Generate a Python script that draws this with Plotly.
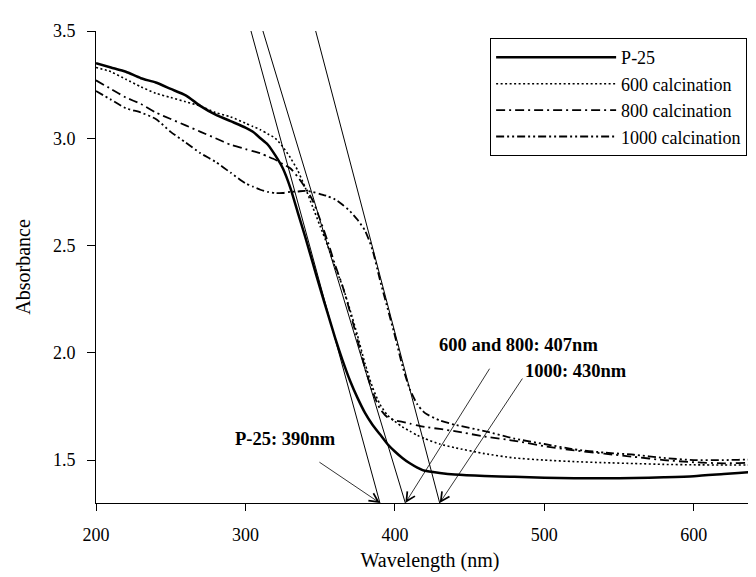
import plotly.graph_objects as go

# wavelength grid (nm) used for all four spectra
wavelength = [200, 210, 220, 230, 240, 250, 260, 270, 280, 290, 300, 305, 310,
              315, 320, 325, 330, 335, 340, 345, 350, 355, 360, 365, 370, 375,
              380, 385, 390, 395, 400, 405, 410, 415, 420, 430, 440, 460, 480,
              500, 520, 540, 560, 580, 600, 620, 640, 650]

abs_p25 = [3.35, 3.33, 3.31, 3.28, 3.26, 3.23, 3.20, 3.15, 3.11, 3.08, 3.05,
           3.03, 3.00, 2.97, 2.92, 2.86, 2.77, 2.655, 2.54, 2.42, 2.30, 2.185,
           2.07, 1.965, 1.87, 1.79, 1.72, 1.665, 1.62, 1.575, 1.54, 1.51,
           1.485, 1.465, 1.45, 1.44, 1.433, 1.426, 1.422, 1.418, 1.415, 1.415,
           1.416, 1.42, 1.425, 1.435, 1.445, 1.45]

abs_600 = [3.33, 3.31, 3.275, 3.24, 3.21, 3.19, 3.17, 3.15, 3.12, 3.10, 3.07,
           3.055, 3.04, 3.02, 3.00, 2.96, 2.91, 2.85, 2.77, 2.68, 2.59, 2.50,
           2.40, 2.31, 2.20, 2.08, 1.95, 1.84, 1.76, 1.71, 1.68, 1.655, 1.635,
           1.615, 1.60, 1.575, 1.558, 1.53, 1.51, 1.50, 1.493, 1.488, 1.484,
           1.48, 1.478, 1.477, 1.477, 1.478]

abs_800 = [3.27, 3.23, 3.19, 3.16, 3.12, 3.09, 3.06, 3.03, 3.00, 2.97, 2.95,
           2.94, 2.93, 2.915, 2.90, 2.88, 2.86, 2.82, 2.77, 2.71, 2.62, 2.52,
           2.41, 2.31, 2.19, 2.06, 1.93, 1.82, 1.74, 1.70, 1.685, 1.678, 1.67,
           1.662, 1.655, 1.645, 1.635, 1.61, 1.59, 1.565, 1.545, 1.53, 1.515,
           1.50, 1.49, 1.485, 1.488, 1.49]

abs_1000 = [3.22, 3.18, 3.14, 3.12, 3.09, 3.03, 2.98, 2.93, 2.89, 2.84, 2.79,
            2.775, 2.76, 2.75, 2.745, 2.745, 2.75, 2.752, 2.755, 2.75, 2.74,
            2.73, 2.715, 2.69, 2.66, 2.62, 2.57, 2.48, 2.34, 2.21, 2.08, 1.94,
            1.83, 1.76, 1.72, 1.685, 1.665, 1.635, 1.60, 1.575, 1.55, 1.535,
            1.525, 1.51, 1.50, 1.50, 1.503, 1.505]

series_names = ["P-25", "600 calcination", "800 calcination", "1000 calcination"]

# tangent lines: where they meet the x axis and where they leave the top
tangent_base = [390, 407, 430]
tangent_top = [303.7, 311.7, 347]
axis_floor = 1.3
axis_ceiling = 3.5

# band-gap labels
label_text = ["P-25: 390nm", "600 and 800: 407nm", "1000: 430nm"]
label_x = [327, 483, 521]
label_y = [1.60, 2.036, 1.915]
arrow_tip = [390, 407, 430]
arrow_tail_x = [348.5, 464, 486]
arrow_tail_y = [1.495, 1.933, 1.887]


def main():
    font = "Liberation Serif, Times New Roman, serif"
    fig = go.Figure()

    styles = [
        dict(width=2.5, dash="solid"),
        dict(width=1.6, dash="2px,2.5px"),
        dict(width=1.8, dash="9px,4px,2px,4px"),
        dict(width=1.8, dash="8px,3px,2px,3px,2px,3px"),
    ]
    for name, ys, st in zip(series_names,
                            [abs_p25, abs_600, abs_800, abs_1000], styles):
        fig.add_trace(go.Scatter(x=wavelength, y=ys, mode="lines", name=name,
                                 line=dict(color="black", shape="spline",
                                           smoothing=0.6, **st)))

    for b, t in zip(tangent_base, tangent_top):
        fig.add_trace(go.Scatter(x=[b, t], y=[axis_floor, axis_ceiling],
                                 mode="lines", showlegend=False,
                                 hoverinfo="skip",
                                 line=dict(color="black", width=1)))

    for txt, x, y in zip(label_text, label_x, label_y):
        fig.add_annotation(x=x, y=y, text="<b>%s</b>" % txt, showarrow=False,
                           font=dict(family=font, size=18.5, color="black"))

    for tip, tx, ty in zip(arrow_tip, arrow_tail_x, arrow_tail_y):
        fig.add_annotation(x=tip, y=axis_floor, ax=tx, ay=ty, axref="x",
                           ayref="y", text="", showarrow=True, arrowhead=5,
                           arrowsize=2.2, arrowwidth=0.8, arrowcolor="black",
                           standoff=0)

    fig.update_layout(
        width=756, height=577,
        margin=dict(l=88, r=0, t=23, b=82),
        paper_bgcolor="white", plot_bgcolor="white",
        font=dict(family=font, size=18, color="black"),
        legend=dict(x=0.59, y=0.985, xanchor="left", yanchor="top",
                    bordercolor="black", borderwidth=1, bgcolor="white",
                    itemwidth=120, font=dict(size=18)),
    )
    fig.update_xaxes(range=[200, 647], tickvals=[200, 300, 400, 500, 600],
                     showline=True, linecolor="black", linewidth=1,
                     ticks="outside", ticklen=7, tickcolor="black",
                     showgrid=False, zeroline=False, ticklabelstandoff=8,
                     title=dict(text="Wavelength (nm)", font=dict(size=20),
                                standoff=9))
    fig.update_yaxes(range=[axis_floor, axis_ceiling],
                     tickvals=[1.5, 2.0, 2.5, 3.0, 3.5], tickformat=".1f",
                     showline=True, linecolor="black", linewidth=1,
                     ticks="outside", ticklen=8, tickcolor="black",
                     showgrid=False, zeroline=False, ticklabelstandoff=8,
                     title=dict(text="Absorbance", font=dict(size=20),
                                standoff=16))

    fig.write_html("out.html")


if __name__ == '__main__':
    main()
